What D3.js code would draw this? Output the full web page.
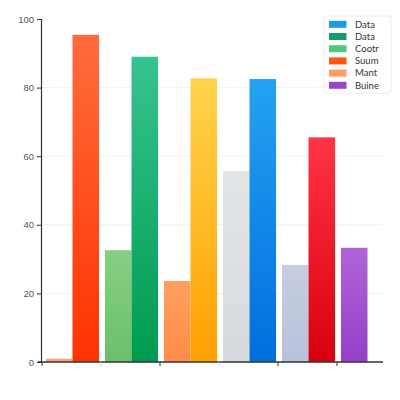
<!DOCTYPE html>
<html>
<head>
<meta charset="utf-8">
<script src="https://cdn.jsdelivr.net/npm/d3@7"></script>
<style>
  body { margin: 0; background: #fff; }
  svg { display: block; font-family: Lato, "Open Sans", sans-serif; }
</style>
</head>
<body>
<script>
var width = 400
var height = 400

// six unlabeled groups, two bars each (last group has one)
var groups = [0, 1, 2, 3, 4, 5]
var firstValues = [1, 32.6, 23.6, 55.7, 28.3, 33.3]
var secondValues = [95.4, 89.0, 82.7, 82.5, 65.5, null]

// [top, bottom] gradient colours for each bar
var firstColors = [
  ["#f7b088", "#f4a070"],
  ["#86cf84", "#6cbf6c"],
  ["#ffa060", "#ff8c48"],
  ["#e2e5e8", "#d6d9dd"],
  ["#c6cde0", "#b8c2da"],
  ["#b064d8", "#9440c8"]
]
var secondColors = [
  ["#ff6c3c", "#ff3300"],
  ["#36c48e", "#009a50"],
  ["#ffd44c", "#ffa000"],
  ["#24a2f2", "#006ede"],
  ["#ff3445", "#d8000e"],
  null
]

var legendLabels = ["Data", "Data", "Cootr", "Suum", "Mant", "Buine"]
var legendColors = ["#1a9be8", "#0f9e6c", "#52c87a", "#ff5412", "#ff9c62", "#9a46c8"]

var yTicks = [0, 20, 40, 60, 80, 100]

const svg = d3.select("body").append("svg")
  .attr("width", width).attr("height", height)

const x0 = d3.scaleBand().domain(groups).range([43, 397])
  .paddingInner(0.1).paddingOuter(0.05)
const x1 = d3.scaleBand().domain([0, 1]).range([0, x0.bandwidth()])
const y = d3.scaleLinear().domain([0, 100]).range([362, 19])

// gridlines
svg.append("g")
  .selectAll("line")
  .data(yTicks.slice(1, -1))
  .join("line")
  .attr("x1", 42).attr("x2", 383)
  .attr("y1", d => y(d)).attr("y2", d => y(d))
  .attr("stroke", "#f0f0f0")

// gradients
const defs = svg.append("defs")
var bars = []
groups.forEach((g, i) => {
  bars.push({ g: g, k: 0, v: firstValues[i], c: firstColors[i] })
  if (secondValues[i] != null) bars.push({ g: g, k: 1, v: secondValues[i], c: secondColors[i] })
})
bars.forEach((d, i) => {
  d.id = "grad" + i
  const lg = defs.append("linearGradient").attr("id", d.id)
    .attr("x1", 0).attr("y1", 0).attr("x2", 0).attr("y2", 1)
  lg.append("stop").attr("offset", "0%").attr("stop-color", d.c[0])
  lg.append("stop").attr("offset", "100%").attr("stop-color", d.c[1])
})

svg.append("g")
  .selectAll("rect")
  .data(bars)
  .join("rect")
  .attr("x", d => x0(d.g) + x1(d.k))
  .attr("width", x1.bandwidth())
  .attr("y", d => y(d.v))
  .attr("height", d => y(0) - y(d.v))
  .attr("fill", d => "url(#" + d.id + ")")

// y axis
const yAxis = svg.append("g")
  .attr("transform", "translate(41,0)")
  .call(d3.axisLeft(y).tickValues(yTicks).tickSize(4).tickPadding(3))
yAxis.select(".domain").attr("stroke", "#333").attr("stroke-width", 1.2)
yAxis.selectAll(".tick line").attr("stroke", "#333")
yAxis.selectAll("text").attr("fill", "#555").style("font-size", "9.5px")

// x axis line and group boundary ticks
svg.append("line")
  .attr("x1", 38).attr("x2", 383)
  .attr("y1", y(0)).attr("y2", y(0))
  .attr("stroke", "#333").attr("stroke-width", 1.5)
svg.append("g")
  .selectAll("line")
  .data(groups)
  .join("line")
  .attr("x1", d => x0(d) - x0.step() * 0.05 - 1)
  .attr("x2", d => x0(d) - x0.step() * 0.05 - 1)
  .attr("y1", y(0)).attr("y2", y(0) + 4)
  .attr("stroke", (d, i) => i === 1 || i === 3 ? "#ccc" : "#333")

// legend
const legend = svg.append("g").attr("transform", "translate(324,16)")
legend.append("rect")
  .attr("width", 67).attr("height", 77)
  .attr("fill", "#fff").attr("stroke", "#ececec").attr("rx", 2)
const item = legend.selectAll("g.item")
  .data(legendLabels)
  .join("g")
  .attr("class", "item")
  .attr("transform", (d, i) => "translate(0," + (8.3 + i * 12.2) + ")")
item.append("rect")
  .attr("x", 5).attr("y", -3.5).attr("width", 17.5).attr("height", 7)
  .attr("fill", (d, i) => legendColors[i])
item.append("text")
  .attr("x", 31).attr("dy", "0.35em")
  .attr("fill", "#333")
  .style("font-size", "9.5px")
  .text(d => d)
</script>
</body>
</html>
